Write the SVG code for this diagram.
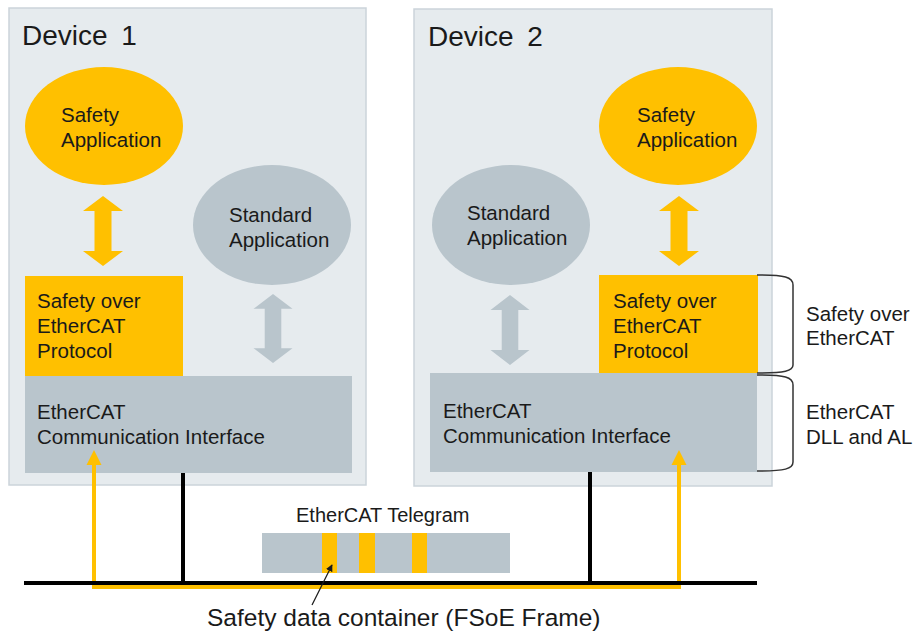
<svg xmlns="http://www.w3.org/2000/svg" width="915" height="633" viewBox="0 0 915 633">
<style>
text{font-family:"Liberation Sans",Arial,sans-serif;fill:#1a1a1a}
.dev{fill:#E6EBEE;stroke:#CBD4DA;stroke-width:1.5}
.yel{fill:#FFC000}
.gry{fill:#B9C5CC}
.t20{font-size:20.5px}
.t28{font-size:28px;word-spacing:6px}
.brace{fill:none;stroke:#333;stroke-width:1.5}
.bus{fill:none;stroke:#000;stroke-width:4}
.sig{fill:none;stroke:#FFC000;stroke-width:4}
</style>
<defs>
<path id="dbl" d="M0,0 L20,15 L8.5,15 L8.5,55 L20,55 L0,70 L-20,55 L-8.5,55 L-8.5,15 L-20,15 Z"/>
<marker id="ptr" viewBox="0 0 10 10" refX="9" refY="5" markerWidth="7" markerHeight="7" orient="auto" markerUnits="userSpaceOnUse">
<path d="M0,0 L10,5 L0,10 Z" fill="#1a1a1a"/>
</marker>
</defs>

<g id="device1">
<rect class="dev" x="9" y="8" width="357" height="477"/>
<text class="t28" x="22" y="45">Device 1</text>
</g>
<g id="device2">
<rect class="dev" x="414" y="9" width="358" height="477"/>
<text class="t28" x="428" y="46">Device 2</text>
</g>

<g id="safety-app-1">
<ellipse class="yel" cx="104" cy="126" rx="79" ry="59"/>
<text class="t20" x="61" y="122">Safety</text>
<text class="t20" x="61" y="147">Application</text>
</g>
<g id="standard-app-1">
<ellipse class="gry" cx="272" cy="225" rx="79" ry="60"/>
<text class="t20" x="229" y="222">Standard</text>
<text class="t20" x="229" y="247">Application</text>
</g>
<g id="fsoe-1">
<rect class="yel" x="25" y="276" width="158" height="100"/>
<text class="t20" x="37" y="308">Safety over</text>
<text class="t20" x="37" y="333">EtherCAT</text>
<text class="t20" x="37" y="358">Protocol</text>
</g>
<g id="eci-1">
<rect class="gry" x="25" y="376" width="327" height="97"/>
<text class="t20" x="37" y="419">EtherCAT</text>
<text class="t20" x="37" y="444">Communication Interface</text>
</g>

<g id="safety-app-2">
<ellipse class="yel" cx="678" cy="126" rx="79" ry="59"/>
<text class="t20" x="637" y="122">Safety</text>
<text class="t20" x="637" y="147">Application</text>
</g>
<g id="standard-app-2">
<ellipse class="gry" cx="511" cy="225" rx="79" ry="60"/>
<text class="t20" x="467" y="220">Standard</text>
<text class="t20" x="467" y="245">Application</text>
</g>
<g id="fsoe-2">
<rect class="yel" x="599" y="275" width="159" height="98"/>
<text class="t20" x="613" y="308">Safety over</text>
<text class="t20" x="613" y="333">EtherCAT</text>
<text class="t20" x="613" y="358">Protocol</text>
</g>
<g id="eci-2">
<rect class="gry" x="430" y="373" width="327" height="99"/>
<text class="t20" x="443" y="418">EtherCAT</text>
<text class="t20" x="443" y="443">Communication Interface</text>
</g>

<g id="layer-labels">
<path class="brace" d="M757,275 C785,275 793,277 793,285 L793,365 C793,371 785,373 757,373"/>
<path class="brace" d="M757,375 C785,375 793,377 793,385 L793,462 C793,469 785,471 757,471"/>
<text class="t20" x="806" y="321">Safety over</text>
<text class="t20" x="806" y="345">EtherCAT</text>
<text class="t20" x="806" y="419">EtherCAT</text>
<text class="t20" x="806" y="444">DLL and AL</text>
</g>

<g id="telegram">
<text x="296" y="522" font-size="20">EtherCAT Telegram</text>
<rect class="gry" x="262" y="533" width="248" height="40"/>
<rect class="yel" x="322" y="533" width="15" height="40"/>
<rect class="yel" x="359" y="533" width="16" height="40"/>
<rect class="yel" x="412" y="533" width="15" height="40"/>
</g>

<g id="connectors">
<use href="#dbl" x="103" y="196" class="yel"/>
<use href="#dbl" x="679" y="196" class="yel"/>
<use href="#dbl" transform="translate(273,294) scale(0.975,0.985)" class="gry"/>
<use href="#dbl" transform="translate(510,295) scale(0.975,1)" class="gry"/>
<path class="sig" d="M94,462 L94,587 L679,587 L679,462"/>
<polygon class="yel" points="94,450 101.5,465 86.5,465"/>
<polygon class="yel" points="679,450 686.5,465 671.5,465"/>
<path class="bus" d="M183,473 L183,583"/>
<path class="bus" d="M590,472 L590,583"/>
<path class="bus" d="M24,583 L757,583"/>
<line x1="312" y1="605" x2="332" y2="565" stroke="#1a1a1a" stroke-width="1.3" marker-end="url(#ptr)"/>
</g>

<g id="fsoe-label">
<text x="207" y="626" font-size="24.5">Safety data container (FSoE Frame)</text>
</g>
</svg>
